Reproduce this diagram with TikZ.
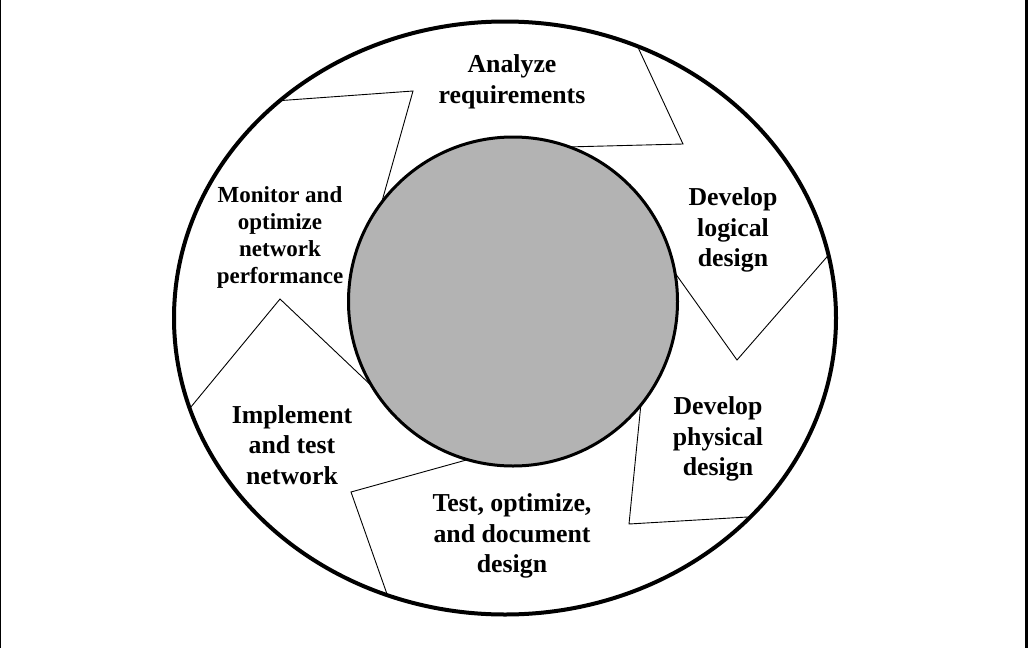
\documentclass[tikz,border=0pt]{standalone}
\usepackage{fontspec}
\setmainfont{Liberation Serif}
\usetikzlibrary{shapes.geometric}

\definecolor{hubgray}{RGB}{179,179,179}

\begin{document}
\begin{tikzpicture}[x=1pt,y=-1pt,line join=miter]

  \tikzstyle{phase}=[align=center,inner sep=0pt,
                     font=\fontsize{25.8}{30.5}\selectfont\bfseries]
  \tikzstyle{divider}=[draw,line width=0.9pt]

  \useasboundingbox (0,0) rectangle (1028,648);
  \fill[white] (0,0) rectangle (1028,648);
  \draw[line width=1pt] (0.5,0) -- (0.5,648);
  \draw[line width=3pt] (1026.5,0) -- (1026.5,648);

  % outer ring and hub
  \node[ellipse,draw,line width=4pt,inner sep=0pt,outer sep=0pt,
        minimum width=662pt,minimum height=593pt] (ring) at (505,318) {};
  \node[circle,draw,line width=3pt,fill=hubgray,inner sep=0pt,outer sep=0pt,
        minimum size=329pt] (hub) at (513,301.5) {};

  % bends of the dividers
  \coordinate (b1) at (413,91);
  \coordinate (b2) at (683,144);
  \coordinate (b3) at (737,360);
  \coordinate (b4) at (629,524);
  \coordinate (b5) at (351,492);
  \coordinate (b6) at (280,299);

  \draw[divider] (ring.136) -- (b1) -- (hub.143);
  \draw[divider] (ring.64)  -- (b2) -- (hub.70);
  \draw[divider] (ring.11)  -- (b3) -- (hub.10);
  \draw[divider] (ring.321) -- (b4) -- (hub.321);
  \draw[divider] (ring.247) -- (b5) -- (hub.254);
  \draw[divider] (ring.196) -- (b6) -- (hub.211);

  % phases
  \node[phase] (AR) at (512,82)  {Analyze\\requirements};
  \node[phase] (LD) at (733,230) {Develop\\logical\\design};
  \node[phase] (PD) at (718,439) {Develop\\physical\\design};
  \node[phase] (TD) at (512,536) {Test, optimize,\\and document\\design};
  \node[phase] (IT) at (292,445) {Implement\\and test\\network};
  \node[phase,font=\fontsize{23}{27}\selectfont\bfseries]
       (MO) at (280,237.5) {Monitor and\\optimize\\network\\performance};
\end{tikzpicture}
\end{document}
